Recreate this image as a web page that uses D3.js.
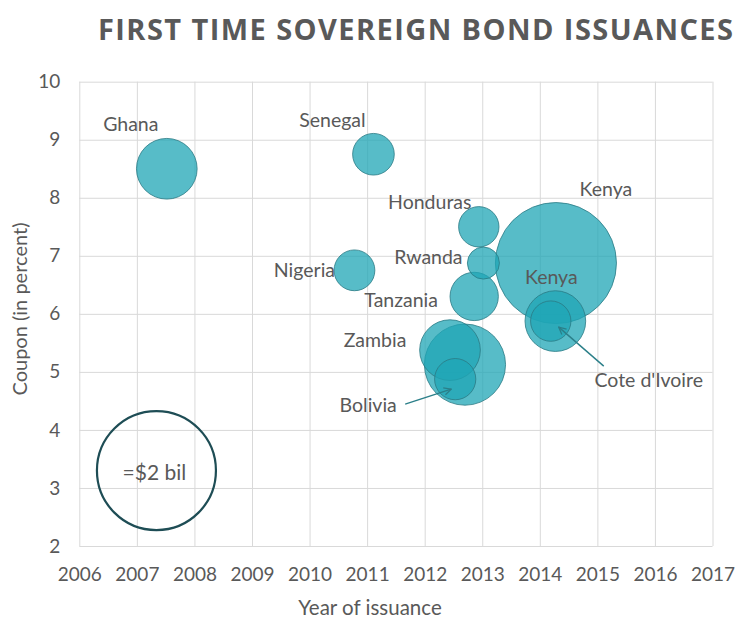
<!DOCTYPE html>
<html>
<head>
<meta charset="utf-8">
<script src="https://cdn.jsdelivr.net/npm/d3@7"></script>
<style>
  body { margin: 0; background: #fff; }
  svg { display: block; font-family: Lato, sans-serif; }
</style>
</head>
<body>
<div id="chart"></div>
<script>
// values (year, coupon %, amount in $ bil via the legend circle)
const countries = ["Ghana", "Senegal", "Nigeria", "Honduras", "Rwanda", "Tanzania", "Zambia", "", "Bolivia", "Kenya", "Kenya", "Cote d'Ivoire"];
const years = [2007.52, 2011.11, 2010.78, 2012.94, 2013.02, 2012.86, 2012.44, 2012.7, 2012.53, 2014.28, 2014.27, 2014.19];
const coupons = [8.5, 8.75, 6.75, 7.5, 6.875, 6.3, 5.375, 5.125, 4.875, 6.875, 5.875, 5.875];
const amounts = [0.52, 0.245, 0.235, 0.23, 0.145, 0.33, 0.52, 0.93, 0.24, 2.07, 0.52, 0.23];

const xTicks = [2006, 2007, 2008, 2009, 2010, 2011, 2012, 2013, 2014, 2015, 2016, 2017];
const yTicks = [2, 3, 4, 5, 6, 7, 8, 9, 10];

const legendAmount = 2;
const legendYear = 2007.34;
const legendCoupon = 3.3;

// label placement, pixel offsets from bubble centre
const labelOffsets = {
    "Ghana": [-36, -38], "Senegal": [-41, -27], "Nigeria": [-50, 7], "Honduras": [-49, -18],
    "Rwanda": [-55, 1], "Tanzania": [-73, 11], "Zambia": [-75, -3], "Bolivia": [-87, 33],
    "Kenya0": [50, -67], "Kenya1": [-4, -37], "Cote d'Ivoire": [98, 66]
};
const arrows = {
    "Bolivia": [[-50, 25], [-4, 10]],
    "Cote d'Ivoire": [[53, 45], [8, 6]]
};

const width = 736;
const height = 620;
const textColor = '#595959';

const svg = d3.select('#chart')
    .append('svg')
    .attr('width', width)
    .attr('height', height);

const area = { left: 79.3, right: 712.5, top: 81.7, bottom: 546 };

const xScale = d3.scaleLinear().domain([2006, 2017]).range([area.left, area.right]);
const yScale = d3.scaleLinear().domain([2, 10]).range([area.bottom, area.top]);
const rScale = d3.scaleSqrt().domain([0, 2]).range([0, 59.5]);

// title
svg.append('text')
    .attr('x', 98)
    .attr('y', 40)
    .attr('textLength', 635)
    .attr('lengthAdjust', 'spacing')
    .style('font-family', '"Open Sans", sans-serif')
    .style('font-weight', 'bold')
    .style('font-size', '29px')
    .style('fill', textColor)
    .text('FIRST TIME SOVEREIGN BOND ISSUANCES');

// gridlines + tick labels
const xAxis = svg.append('g')
    .attr('transform', `translate(0, ${area.bottom})`)
    .call(d3.axisBottom(xScale).tickValues(xTicks).tickFormat(d3.format('d'))
        .tickSize(-(area.bottom - area.top)).tickPadding(15));

const yAxis = svg.append('g')
    .attr('transform', `translate(${area.left}, 0)`)
    .call(d3.axisLeft(yScale).tickValues(yTicks)
        .tickSize(-(area.right - area.left)).tickPadding(19));

[xAxis, yAxis].forEach(g => {
    g.select('.domain').remove();
    g.selectAll('line').attr('stroke', '#d9d9d9').attr('stroke-width', 1);
    g.selectAll('text')
        .style('font-family', 'Lato, sans-serif')
        .style('font-size', '19px')
        .style('fill', textColor);
});
xAxis.selectAll('text').attr('dy', '1.05em');

// axis titles
svg.append('text')
    .attr('text-anchor', 'middle')
    .attr('x', 370)
    .attr('y', 615)
    .style('font-size', '20.5px')
    .style('fill', textColor)
    .text('Year of issuance');

svg.append('text')
    .attr('text-anchor', 'middle')
    .attr('transform', 'rotate(-90)')
    .attr('x', -309)
    .attr('y', 27)
    .style('font-size', '20px')
    .style('fill', textColor)
    .text('Coupon (in percent)');

// bubbles, largest drawn first
const bonds = countries.map((c, i) => ({
    country: c,
    year: years[i],
    coupon: coupons[i],
    amount: amounts[i],
    key: c === 'Kenya' ? 'Kenya' + countries.slice(0, i).filter(d => d === 'Kenya').length : c
}));
const drawOrder = bonds.slice().sort((a, b) => b.amount - a.amount);

svg.append('g')
    .selectAll('circle')
    .data(drawOrder)
    .join('circle')
    .attr('cx', d => xScale(d.year))
    .attr('cy', d => yScale(d.coupon))
    .attr('r', d => rScale(d.amount))
    .attr('fill', 'rgb(31,166,181)')
    .attr('fill-opacity', 0.75)
    .attr('stroke', '#2b7a84')
    .attr('stroke-opacity', 0.8)
    .attr('stroke-width', 1);

// legend circle
svg.append('circle')
    .attr('cx', xScale(legendYear))
    .attr('cy', yScale(legendCoupon))
    .attr('r', rScale(legendAmount))
    .attr('fill', 'none')
    .attr('stroke', '#1e4d55')
    .attr('stroke-width', 2.2);

svg.append('text')
    .attr('text-anchor', 'middle')
    .attr('x', xScale(legendYear) - 2)
    .attr('y', yScale(legendCoupon) + 9)
    .style('font-size', '21px')
    .style('fill', textColor)
    .text('=$' + legendAmount + ' bil');

// labels
svg.append('g')
    .selectAll('text')
    .data(bonds.filter(d => d.country))
    .join('text')
    .attr('text-anchor', 'middle')
    .attr('x', d => xScale(d.year) + labelOffsets[d.key][0])
    .attr('y', d => yScale(d.coupon) + labelOffsets[d.key][1])
    .style('font-size', '19.5px')
    .style('fill', textColor)
    .text(d => d.country);

// arrows
svg.append('defs').append('marker')
    .attr('id', 'head')
    .attr('viewBox', '0 0 10 10')
    .attr('refX', 9)
    .attr('refY', 5)
    .attr('markerWidth', 9)
    .attr('markerHeight', 9)
    .attr('markerUnits', 'userSpaceOnUse')
    .attr('orient', 'auto')
    .append('path')
    .attr('d', 'M1,1 L9,5 L1,9')
    .attr('fill', 'none')
    .attr('stroke', '#2b7f89')
    .attr('stroke-width', 1.4);

svg.append('g')
    .selectAll('line')
    .data(bonds.filter(d => arrows[d.key]))
    .join('line')
    .attr('x1', d => xScale(d.year) + arrows[d.key][0][0])
    .attr('y1', d => yScale(d.coupon) + arrows[d.key][0][1])
    .attr('x2', d => xScale(d.year) + arrows[d.key][1][0])
    .attr('y2', d => yScale(d.coupon) + arrows[d.key][1][1])
    .attr('stroke', '#2b7f89')
    .attr('stroke-width', 1.4)
    .attr('marker-end', 'url(#head)');
</script>
</body>
</html>
